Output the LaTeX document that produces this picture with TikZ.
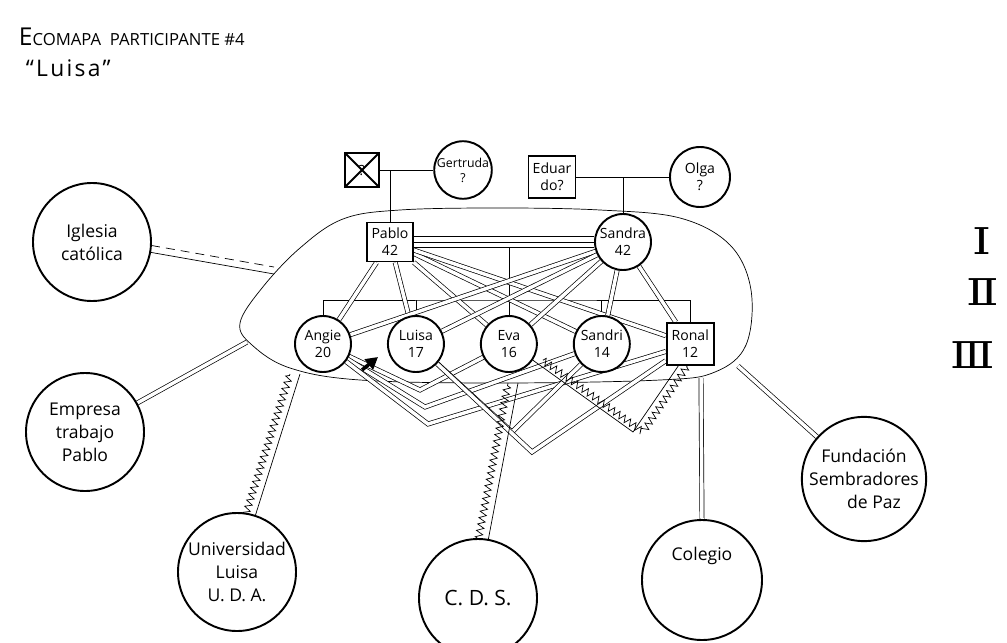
\documentclass[tikz,border=0pt]{standalone}
\usepackage{fontspec}
\setmainfont{Open Sans}
\newfontfamily\numfont{DejaVu Serif}
\usetikzlibrary{arrows.meta,positioning,decorations.pathmorphing,backgrounds}

\begin{document}
\begin{tikzpicture}[
    x=0.2mm, y=-0.2mm,
    line width=1.1pt,
    node distance=7mm,
    every node/.style={font=\fontsize{8}{9.5}\selectfont},
    fem/.style={draw, circle, fill=white, minimum size=11.2mm, inner sep=0pt, align=center},
    masc/.style={draw, rectangle, fill=white, minimum width=9.2mm, minimum height=8mm, inner sep=0pt, align=center},
    org/.style={draw, circle, fill=white, minimum size=23.6mm, inner sep=0pt, align=center, font=\fontsize{10}{13}\selectfont},
    fuerte/.style={double, double distance=0.7mm},
    zz/.style={decorate, decoration={zigzag, segment length=1.3mm, amplitude=0.7mm}},
    legend/.style={anchor=west, inner sep=0pt, font=\numfont\fontsize{21}{21}\selectfont}
]
\useasboundingbox (0,0) rectangle (1007,643);

% titulo
\node[anchor=west, inner sep=0pt] (titulo) at (18,37) {{\fontsize{14}{14}\selectfont E}{\fontsize{9.5}{9.5}\selectfont COMAPA\ \ PARTICIPANTE \#4}};
\node[anchor=west, inner sep=0pt, font=\fontsize{13}{13}\selectfont\addfontfeature{LetterSpace=10}] (nombre) at (25,68) {“Luisa”};

% abuelos
\node[masc, minimum width=6.8mm, minimum height=6.8mm, path picture={\draw (path picture bounding box.north west) -- (path picture bounding box.south east) (path picture bounding box.north east) -- (path picture bounding box.south west);}] (abuelo) at (362,170) {\\[-1mm]?};
\node[fem, font=\fontsize{7}{8.5}\selectfont] (gertruda) at (463,170) {Gertruda\\?};
\node[masc, minimum width=9.4mm, minimum height=8.4mm] (eduardo) at (552,177) {Eduar\\do?};
\node[fem, minimum size=12mm] (olga) at (700,177) {Olga\\?};

% padres
\node[masc, minimum height=7.8mm] (pablo) at (390,242) {Pablo\\42};
\node[fem] (sandra) at (623,242) {Sandra\\42};

% hijos
\node[fem] (angie) at (323,344) {Angie\\20};
\node[fem, right=of angie] (luisa) {Luisa\\17};
\node[fem, right=of luisa] (eva) {Eva\\16};
\node[fem, right=of eva] (sandri) {Sandri\\14};
\node[masc, minimum width=9.4mm, minimum height=8.4mm, right=of sandri] (ronal) {Ronal\\12};

% entorno
\node[org] (iglesia) at (92,242) {Iglesia\\católica};
\node[org] (empresa) at (85,432) {Empresa\\trabajo\\Pablo};
\node[org] (universidad) at (237,572) {Universidad\\Luisa\\U. D. A.};
\node[org, font=\fontsize{12}{13}\selectfont] (cds) at (478,598) {C. D. S.};
\node[org, minimum size=24mm] (colegio) at (702,580) {Colegio\\[6mm]};
\node[org, minimum size=24.4mm] (fundacion) at (864,479) {Fundación\\Sembradores\\\hspace*{4mm}de Paz};

% convenciones
\node[legend] (uno) at (972,241) {\scalebox{1.3}[1]{Ⅰ}};
\node[legend] (dos) at (966,292) {\scalebox{1.3}[1]{Ⅱ}};
\node[legend] (tres) at (950,355) {\scalebox{1.25}[1]{Ⅲ}};

\coordinate (bIgl) at (274,274);
\coordinate (bEmp) at (247,342);
\coordinate (bUni) at (300,374);
\coordinate (bCds) at (518,383);
\coordinate (bCol) at (701,378);
\coordinate (bFun) at (738,366);
\coordinate (fam) at (505,300);
\coordinate (v1) at (420,390);
\coordinate (v2) at (425,407);
\coordinate (v3) at (428,424);
\coordinate (v4) at (512,432);
\coordinate (v5) at (532,452);
\coordinate (v6) at (633,432);
\coordinate (ptr) at (362,370);
\coordinate (ptrtip) at (378,357);

\begin{scope}[on background layer]
\draw plot[smooth cycle, tension=0.6] coordinates {(240,323) (262,288) (300,248) (343,219) (400,210) (500,208) (600,210) (680,218) (730,245) (751,290) (746,345) (715,372) (660,380) (500,383) (360,380) (290,368) (252,345)};

% familia
\draw (abuelo) -- (gertruda);
\draw (pablo.north) -- (pablo.north |- gertruda);
\draw (eduardo) -- (olga);
\draw (sandra.north) -- (sandra.north |- olga);
\draw (angie.north) |- (fam) -| (ronal.north);
\draw (luisa.north) -- (luisa.north |- fam);
\draw (sandri.north) -- (sandri.north |- fam);
\draw (eva.north) -- (eva.north |- sandra.west);

% relaciones
\draw[fuerte, double distance=2mm] (pablo) -- (sandra);
\draw (pablo) -- (sandra);
\draw[fuerte] (pablo) -- (angie);
\draw[fuerte] (pablo) -- (luisa);
\draw[fuerte] (pablo) -- (eva);
\draw[fuerte] (pablo) -- (sandri);
\draw[fuerte] (pablo) -- (ronal);
\draw[fuerte] (sandra) -- (angie);
\draw[fuerte] (sandra) -- (luisa);
\draw[fuerte] (sandra) -- (eva);
\draw[fuerte] (sandra) -- (sandri);
\draw[fuerte] (sandra) -- (ronal);
\draw[fuerte] (angie) -- (luisa);
\draw[fuerte] (luisa) -- (eva);
\draw[fuerte] (eva) -- (sandri);
\draw[fuerte] (sandri) -- (ronal);
\draw[fuerte] (angie) -- (v1) -- (eva);
\draw[fuerte] (angie) -- (v2) -- (sandri);
\draw[fuerte] (angie) -- (v3) -- (ronal);
\draw[fuerte] (luisa) -- (v4) -- (sandri);
\draw[fuerte] (luisa) -- (v5) -- (ronal);

% con el entorno
\draw[fuerte] (colegio.north) -- (bCol);
\draw[fuerte] (fundacion) -- (bFun);
\draw[fuerte] (empresa) -- (bEmp);
\draw (iglesia.-10) -- (bIgl);
\draw[dashed, dash pattern=on 1.8mm off 1.2mm] ([yshift=1.4mm]iglesia.-10) -- ([yshift=1.4mm]bIgl);

% estresantes
\draw[zz] ([xshift=2mm]eva.-34) -- ([xshift=2mm]v6) -- ([xshift=-0.6mm]ronal.south);
\draw[zz] ([xshift=-2mm]universidad.72) -- ([xshift=-2mm]bUni);
\draw[zz] ([xshift=-2mm]cds.80) -- ([xshift=-2mm]bCds);
\draw (eva.-34) -- (v6) -- ([xshift=-2.4mm]ronal.south);
\draw (universidad.72) -- (bUni);
\draw (cds.80) -- (bCds);
\end{scope}

\draw[-{Triangle[length=2.4mm, width=2.6mm]}, line width=2pt] (ptr) -- (ptrtip);
\end{tikzpicture}
\end{document}
